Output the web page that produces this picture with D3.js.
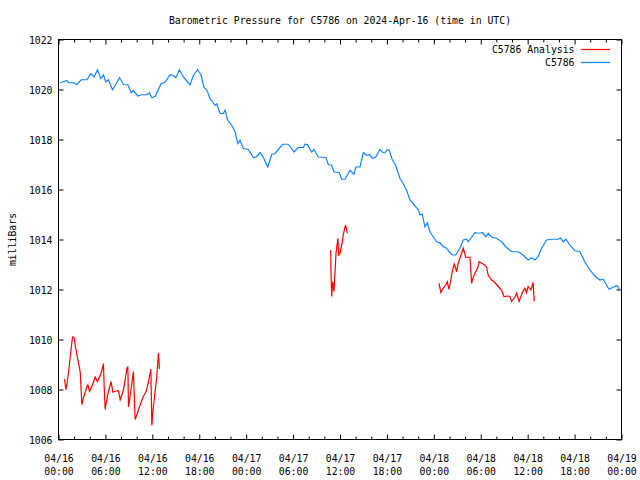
<!DOCTYPE html>
<html>
<head>
<meta charset="utf-8">
<script src="https://cdn.jsdelivr.net/npm/d3@7"></script>
<style>
  body { margin: 0; background: #fff; }
  svg { display: block; }
  text { font-family: "DejaVu Sans Mono", "Liberation Mono", monospace; font-size: 9.8px; fill: #000; }
</style>
</head>
<body>
<svg id="chart" width="640" height="480"></svg>
<script>
// ---- DATA (hours since 2024-04-16 00:00 UTC) ----
const title = "Barometric Pressure for C5786 on 2024-Apr-16 (time in UTC)";
const yLabel = "milliBars";
const seriesNames = ["C5786 Analysis", "C5786"];
const yTicks = [1006, 1008, 1010, 1012, 1014, 1016, 1018, 1020, 1022];
const xMajorHours = [0, 6, 12, 18, 24, 30, 36, 42, 48, 54, 60, 66, 72];

const stationHours = [0.22,1.07,1.28,1.92,2.35,2.90,3.63,4.14,4.56,4.98,5.42,5.75,6.06,6.39,6.90,7.37,7.80,8.31,8.87,9.29,9.58,10.15,10.66,11.30,11.63,11.94,12.36,13.12,13.64,14.27,14.70,15.00,15.46,15.97,16.41,16.83,17.25,17.76,18.20,18.62,18.96,19.39,20.03,20.24,20.66,21.09,21.30,21.65,22.16,22.58,22.93,23.22,23.64,24.28,24.92,25.27,25.78,26.20,26.76,27.27,27.69,28.12,28.68,29.39,30.12,30.67,31.31,31.53,31.82,32.38,32.68,33.23,34.21,34.50,34.94,35.23,35.91,36.22,36.64,36.93,37.28,37.79,38.04,38.56,38.98,39.41,39.74,40.18,40.56,41.11,41.46,41.75,42.04,42.30,42.68,43.12,43.67,44.09,44.52,44.95,45.49,46.01,46.22,46.52,46.86,47.16,47.50,47.92,48.36,48.78,49.20,49.64,49.97,50.35,50.79,51.34,51.76,52.19,52.40,52.83,53.25,53.76,54.24,54.66,54.95,55.39,56.03,56.66,57.21,57.94,58.79,59.42,60.06,60.50,60.92,61.34,61.78,62.42,63.05,63.90,64.20,64.54,64.88,65.39,66.03,66.67,67.31,67.95,68.59,69.23,69.65,70.41,70.93,71.44,71.78];
const stationValues = [1020.27,1020.36,1020.27,1020.27,1020.19,1020.39,1020.39,1020.63,1020.50,1020.79,1020.43,1020.59,1020.30,1020.39,1019.99,1020.23,1020.47,1020.20,1020.19,1019.87,1019.96,1019.74,1019.79,1019.79,1019.86,1019.67,1019.73,1020.23,1020.30,1020.59,1020.56,1020.47,1020.79,1020.50,1020.34,1020.19,1020.56,1020.79,1020.60,1020.07,1019.99,1019.63,1019.37,1019.43,1019.04,1019.04,1019.17,1018.77,1018.57,1018.30,1017.84,1017.97,1017.64,1017.60,1017.28,1017.30,1017.48,1017.28,1016.90,1017.40,1017.44,1017.60,1017.81,1017.81,1017.50,1017.68,1017.68,1017.81,1017.80,1017.50,1017.60,1017.30,1017.28,1017.00,1016.97,1016.70,1016.68,1016.41,1016.41,1016.57,1016.77,1016.61,1016.90,1016.90,1017.48,1017.37,1017.40,1017.24,1017.30,1017.60,1017.48,1017.48,1017.60,1017.57,1017.20,1016.97,1016.44,1016.24,1015.97,1015.58,1015.38,1015.20,1014.98,1015.02,1014.51,1014.67,1014.31,1014.11,1013.91,1013.87,1013.71,1013.65,1013.51,1013.38,1013.38,1013.65,1013.98,1014.01,1013.91,1014.09,1014.27,1014.25,1014.27,1014.11,1014.25,1014.09,1014.05,1013.91,1013.71,1013.51,1013.51,1013.38,1013.18,1013.27,1013.18,1013.31,1013.65,1013.98,1014.01,1014.01,1014.07,1013.91,1014.01,1013.78,1013.55,1013.51,1013.11,1012.78,1012.54,1012.38,1012.41,1012.01,1012.09,1012.16,1011.98];

// Analysis series: null marks a gap between segments
const analysisHours = [0.77,0.95,1.07,1.28,1.50,1.79,1.97,2.13,2.35,2.56,2.77,2.99,3.12,3.32,3.63,3.76,3.96,4.27,4.69,4.98,5.46,5.75,5.84,5.97,6.10,6.39,6.73,6.95,7.25,7.67,7.89,8.31,8.74,8.87,8.95,9.16,9.58,9.80,10.10,10.44,10.86,11.17,11.42,11.63,11.81,11.94,12.10,12.27,12.57,12.78,12.91,
  20.0,
  34.81,34.85,34.94,35.07,35.23,35.36,35.49,35.65,35.74,35.83,36.00,36.12,36.29,36.42,36.64,36.73,36.86,36.93,
  42.0,
  48.65,48.91,49.20,49.51,49.71,49.93,50.19,50.35,50.61,50.79,50.91,51.12,51.34,51.55,51.76,51.89,52.07,52.62,52.83,52.96,53.25,53.60,53.80,54.31,54.74,54.95,55.39,55.81,56.23,56.66,56.96,57.51,57.72,57.94,58.36,58.58,58.91,59.30,59.64,59.86,60.06,60.41,60.70,60.83];
const analysisValues = [1008.42,1007.99,1008.19,1008.66,1009.32,1010.10,1010.10,1009.79,1009.39,1009.06,1008.72,1007.39,1007.59,1007.79,1008.12,1008.19,1007.93,1008.12,1008.50,1008.32,1008.66,1009.03,1008.12,1007.20,1007.46,1007.93,1008.32,1007.89,1007.93,1007.95,1007.59,1007.99,1008.82,1008.92,1007.30,1007.73,1008.72,1006.80,1007.06,1007.39,1007.73,1007.89,1008.19,1008.50,1008.82,1006.56,1007.22,1007.66,1008.52,1009.46,1008.82,
  null,
  1013.58,1012.69,1011.72,1012.32,1011.92,1012.71,1013.45,1013.85,1014.05,1013.38,1013.45,1013.65,1013.89,1014.18,1014.51,1014.55,1014.38,1014.25,
  null,
  1012.25,1011.88,1012.05,1012.18,1012.31,1012.01,1012.41,1012.71,1013.02,1012.85,1012.71,1013.05,1013.25,1013.45,1013.65,1013.51,1013.29,1013.29,1012.25,1012.41,1012.65,1012.85,1013.11,1013.02,1012.91,1012.58,1012.38,1012.28,1012.12,1011.98,1011.72,1011.74,1011.72,1011.52,1011.69,1011.85,1011.52,1011.85,1012.05,1011.88,1012.12,1011.98,1012.28,1011.52];

const colors = { analysis: "#ff0000", station: "#1284ff" };

// ---- CHART ----
const svg = d3.select("#chart");
const W = 640, H = 480;
const m = { left: 58.5, right: 18.5, top: 39.5, bottom: 40.5 };
const x0 = m.left, x1 = W - m.right, y0 = H - m.bottom, y1 = m.top;
const start = Date.UTC(2024, 3, 16);
const toDate = h => new Date(start + h * 3600 * 1000);

const x = d3.scaleUtc().domain([toDate(0), toDate(72)]).range([x0, x1]);
const y = d3.scaleLinear().domain([1006, 1022]).range([y0, y1]);

svg.append("rect").attr("width", W).attr("height", H).attr("fill", "#fff");

const majorDates = xMajorHours.map(toDate);
const minorDates = d3.range(0, 73, 2).filter(h => h % 6 !== 0).map(toDate);

// bottom axis (major with labels)
const gB = svg.append("g").attr("transform", `translate(0,${y0})`)
  .call(d3.axisBottom(x).tickValues(majorDates).tickSizeInner(-5).tickSizeOuter(0).tickPadding(0).tickFormat(""));
gB.select(".domain").remove();
gB.selectAll(".tick").each(function(d) {
  const t = d3.select(this).append("text").attr("text-anchor", "middle").attr("fill", "#000");
  t.append("tspan").attr("x", 0).attr("y", 22).text(d3.utcFormat("%m/%d")(d));
  t.append("tspan").attr("x", 0).attr("y", 35.5).text(d3.utcFormat("%H:%M")(d));
});
const gBm = svg.append("g").attr("transform", `translate(0,${y0})`)
  .call(d3.axisBottom(x).tickValues(minorDates).tickSizeInner(-3).tickSizeOuter(0).tickFormat(""));
gBm.select(".domain").remove();

// top mirror ticks
const gT = svg.append("g").attr("transform", `translate(0,${y1})`)
  .call(d3.axisTop(x).tickValues(majorDates).tickSizeInner(-5).tickSizeOuter(0).tickFormat(""));
gT.select(".domain").remove();
const gTm = svg.append("g").attr("transform", `translate(0,${y1})`)
  .call(d3.axisTop(x).tickValues(minorDates).tickSizeInner(-3).tickSizeOuter(0).tickFormat(""));
gTm.select(".domain").remove();

// left axis
const gL = svg.append("g").attr("transform", `translate(${x0},0)`)
  .call(d3.axisLeft(y).tickValues(yTicks).tickSizeInner(-5).tickSizeOuter(0).tickPadding(6).tickFormat(d3.format("d")));
gL.select(".domain").remove();
gL.selectAll("text").attr("fill", "#000").attr("dy", "0.45em");

// right mirror ticks
const gR = svg.append("g").attr("transform", `translate(${x1},0)`)
  .call(d3.axisRight(y).tickValues(yTicks).tickSizeInner(-5).tickSizeOuter(0).tickFormat(""));
gR.select(".domain").remove();

svg.selectAll(".tick line").attr("stroke", "#000").attr("stroke-width", 1);

// frame
svg.append("rect").attr("x", x0).attr("y", y1).attr("width", x1 - x0).attr("height", y0 - y1)
  .attr("fill", "none").attr("stroke", "#000").attr("stroke-width", 1);

// lines
const line = d3.line()
  .defined(d => d[1] !== null)
  .x(d => x(toDate(d[0])))
  .y(d => y(d[1]));

const analysisData = analysisHours.map((h, i) => [h, analysisValues[i]]);
const stationData = stationHours.map((h, i) => [h, stationValues[i]]);

svg.append("path").datum(analysisData).attr("d", line)
  .attr("fill", "none").attr("stroke", colors.analysis).attr("stroke-width", 1.2).attr("stroke-linejoin", "miter");
svg.append("path").datum(stationData).attr("d", line)
  .attr("fill", "none").attr("stroke", colors.station).attr("stroke-width", 1.2).attr("stroke-linejoin", "miter");

// title
svg.append("text").attr("x", (x0 + x1) / 2).attr("y", 24).attr("text-anchor", "middle").text(title);

// y label
svg.append("text").attr("transform", `translate(16,${(y0 + y1) / 2}) rotate(-90)`)
  .attr("text-anchor", "middle").text(yLabel);

// legend
const legend = [
  { name: seriesNames[0], color: colors.analysis, y: 49.5 },
  { name: seriesNames[1], color: colors.station, y: 62.5 }
];
legend.forEach(l => {
  svg.append("text").attr("x", 574.5).attr("y", l.y + 3.5).attr("text-anchor", "end").text(l.name);
  svg.append("line").attr("x1", 581).attr("x2", 610).attr("y1", l.y).attr("y2", l.y)
    .attr("stroke", l.color).attr("stroke-width", 1.2);
});
</script>
</body>
</html>
